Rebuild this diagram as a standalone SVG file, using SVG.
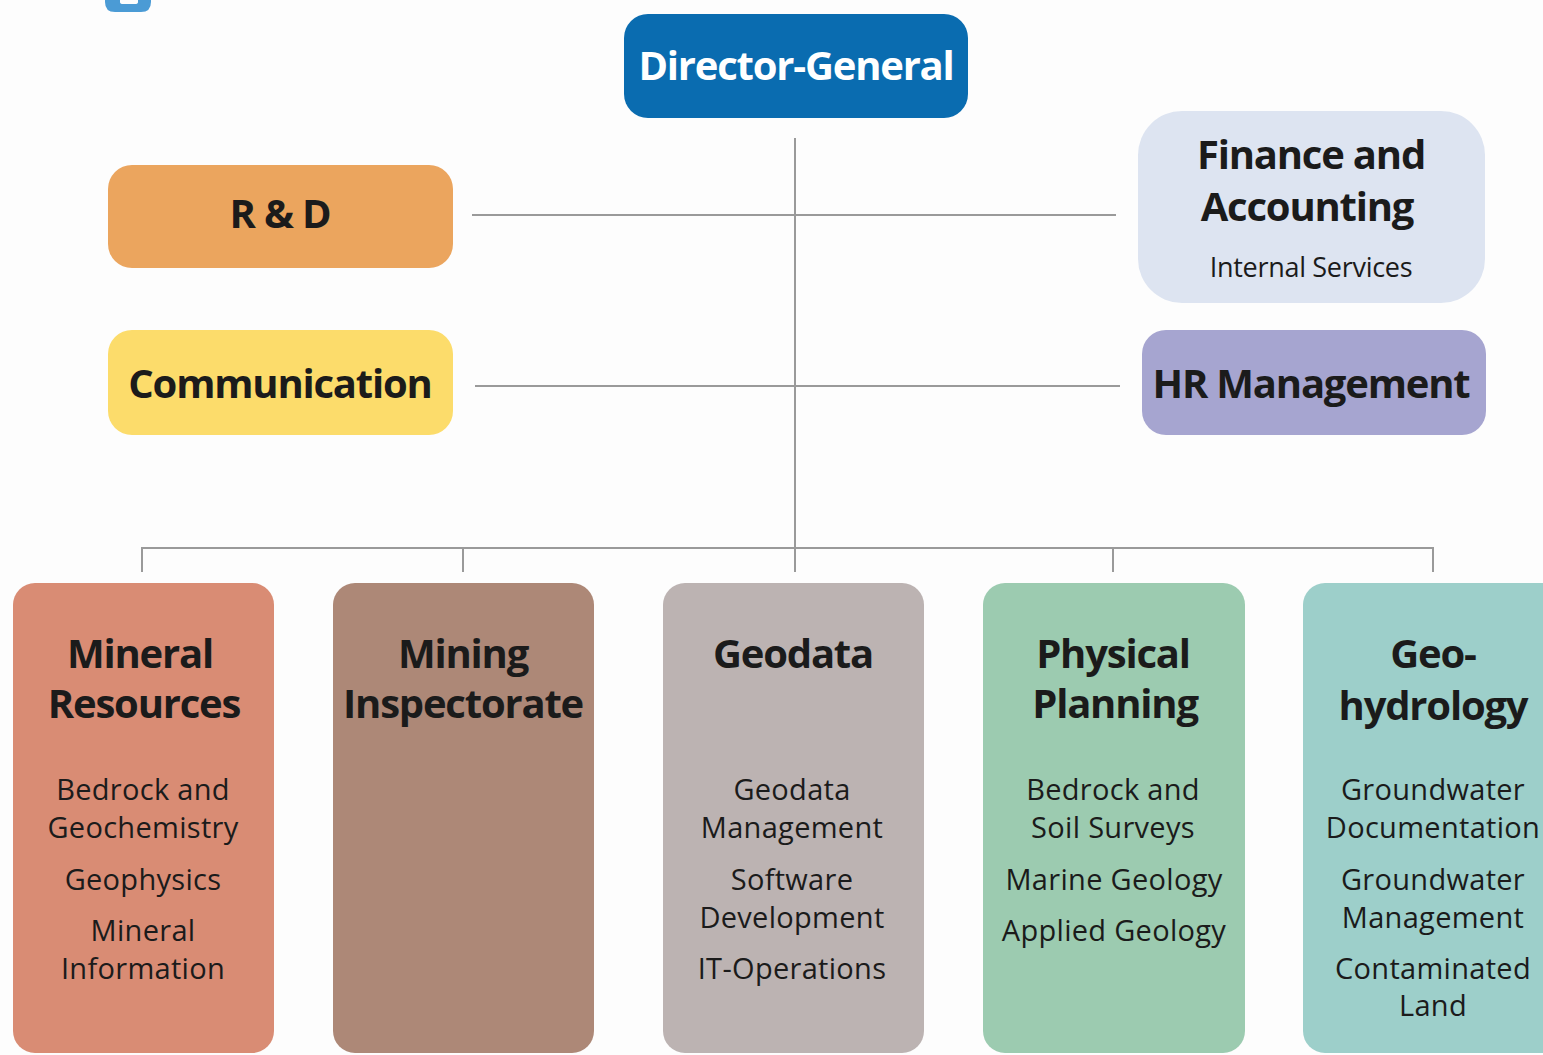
<svg xmlns="http://www.w3.org/2000/svg" width="1543" height="1055" viewBox="0 0 1543 1055">
<style>
.t{font-family:"Open Sans","Noto Sans",sans-serif;fill:#1b1b1b;text-anchor:middle}
.h{font-weight:bold;font-size:40px;letter-spacing:-1.2px}
.s{font-size:29px;letter-spacing:0.3px}
.ln{stroke:#9a9a9a;stroke-width:2;fill:none}
</style>
<rect width="1543" height="1055" fill="#fdfdfd"/>
<path d="M105,0 H151 V2 Q151,12 141,12 H115 Q105,12 105,2 Z M120,0 V2 Q120,4 123,4 H135 Q138,4 138,2 V0 Z" fill="#4b9bd5" fill-rule="evenodd"/>
<g id="connectors" class="ln">
<line x1="795" y1="138" x2="795" y2="572"/>
<line x1="472" y1="215" x2="1116" y2="215"/>
<line x1="475" y1="386" x2="1120" y2="386"/>
<polyline points="142,572 142,548 1433,548 1433,572"/>
<line x1="463" y1="548" x2="463" y2="572"/>
<line x1="1113" y1="548" x2="1113" y2="572"/>
</g>
<g id="director-general">
<rect x="624" y="14" width="344" height="104" rx="24" fill="#0a6cb0"/>
<text class="t h" x="796" y="80" style="fill:#fff">Director-General</text>
</g>
<g id="rnd">
<rect x="108" y="165" width="345" height="103" rx="24" fill="#eba55e"/>
<text class="t h" x="280" y="228">R &amp; D</text>
</g>
<g id="finance">
<rect x="1138" y="111" width="347" height="192" rx="44" fill="#dde4f1"/>
<text class="t h" x="1311" y="169">Finance and</text>
<text class="t h" x="1307" y="221">Accounting</text>
<text class="t s" x="1311" y="277" style="font-size:27px;letter-spacing:-0.3px">Internal Services</text>
</g>
<g id="communication">
<rect x="108" y="330" width="345" height="105" rx="24" fill="#fcdc6b"/>
<text class="t h" x="280" y="398">Communication</text>
</g>
<g id="hr">
<rect x="1142" y="330" width="344" height="105" rx="24" fill="#a6a5d0"/>
<text class="t h" x="1311" y="398">HR Management</text>
</g>
<g id="mineral-resources">
<rect x="13" y="583" width="261" height="470" rx="22" fill="#d98c74"/>
<text class="t h" x="140" y="668">Mineral</text>
<text class="t h" x="144" y="718">Resources</text>
<text class="t s" x="143" y="800">Bedrock and</text>
<text class="t s" x="143" y="838">Geochemistry</text>
<text class="t s" x="143" y="890">Geophysics</text>
<text class="t s" x="143" y="941">Mineral</text>
<text class="t s" x="143" y="979">Information</text>
</g>
<g id="mining-inspectorate">
<rect x="333" y="583" width="261" height="470" rx="22" fill="#ad8877"/>
<text class="t h" x="463" y="668">Mining</text>
<text class="t h" x="463" y="718">Inspectorate</text>
</g>
<g id="geodata">
<rect x="663" y="583" width="261" height="470" rx="22" fill="#bcb3b2"/>
<text class="t h" x="793" y="668">Geodata</text>
<text class="t s" x="792" y="800">Geodata</text>
<text class="t s" x="792" y="838">Management</text>
<text class="t s" x="792" y="890">Software</text>
<text class="t s" x="792" y="928">Development</text>
<text class="t s" x="792" y="979">IT-Operations</text>
</g>
<g id="physical-planning">
<rect x="983" y="583" width="262" height="470" rx="22" fill="#9ccbb0"/>
<text class="t h" x="1113" y="668">Physical</text>
<text class="t h" x="1115" y="718">Planning</text>
<text class="t s" x="1113" y="800">Bedrock and</text>
<text class="t s" x="1113" y="838">Soil Surveys</text>
<text class="t s" x="1114" y="890">Marine Geology</text>
<text class="t s" x="1114" y="941">Applied Geology</text>
</g>
<g id="geo-hydrology">
<rect x="1303" y="583" width="270" height="470" rx="22" fill="#9dcfca"/>
<text class="t h" x="1433" y="668">Geo-</text>
<text class="t h" x="1433" y="720">hydrology</text>
<text class="t s" x="1433" y="800">Groundwater</text>
<text class="t s" x="1433" y="838">Documentation</text>
<text class="t s" x="1433" y="890">Groundwater</text>
<text class="t s" x="1433" y="928">Management</text>
<text class="t s" x="1433" y="979">Contaminated</text>
<text class="t s" x="1433" y="1016">Land</text>
</g>
</svg>
